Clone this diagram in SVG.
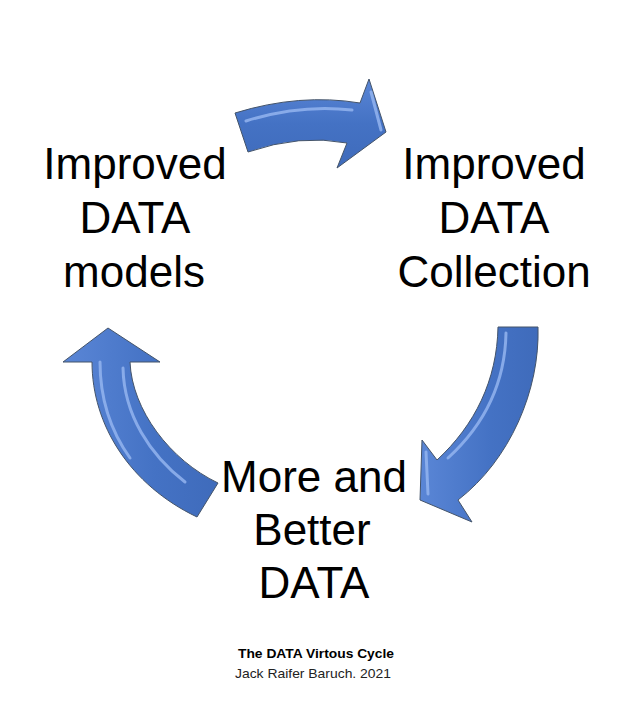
<svg xmlns="http://www.w3.org/2000/svg" width="638" height="720" viewBox="0 0 638 720">
<style>
  .lbl { font-family: "Liberation Sans", Arial, sans-serif; font-size: 44px; fill: #000; text-anchor: middle; }
  .t1 { font-family: "Liberation Sans", Arial, sans-serif; font-size: 13px; font-weight: bold; fill: #000; text-anchor: middle; }
  .t2 { font-family: "Liberation Sans", Arial, sans-serif; font-size: 13.5px; fill: #222; text-anchor: middle; }
  .arrow { stroke: #44546a; stroke-width: 1; stroke-linejoin: miter; }
  .hl { fill: none; stroke: #93b4ee; stroke-width: 3; stroke-linecap: round; opacity: 0.85; }
</style>
<defs>
  <linearGradient id="gTop" x1="0" y1="0" x2="0" y2="1">
    <stop offset="0" stop-color="#5a86d6"/>
    <stop offset="0.5" stop-color="#4472c4"/>
    <stop offset="1" stop-color="#3f6bbb"/>
  </linearGradient>
  <linearGradient id="gR" x1="0" y1="0" x2="1" y2="0">
    <stop offset="0" stop-color="#5a86d6"/>
    <stop offset="0.6" stop-color="#4472c4"/>
    <stop offset="1" stop-color="#3f6bbb"/>
  </linearGradient>
</defs>
<rect width="638" height="720" fill="#fff"/>
<g id="connectors">
  <g id="arrow-top">
    <path class="arrow" fill="url(#gTop)" d="M235,113 Q300,93 360,103 L369,79 L386,132 L337,168 L347,143 Q300,134 248,152 Z"/>
    <path class="hl" d="M246,121 Q300,104 352,110"/>
    <path class="hl" d="M371,92 L381,130" stroke-width="2"/>
  </g>
  <g id="arrow-right">
    <path class="arrow" fill="url(#gR)" d="M498,327 L538,327 C540,390 510,460 458,500 L472,522 L420,500 L422,440 L437,460 C475,425 497,380 498,327 Z"/>
    <path class="hl" d="M506,333 C505,385 484,425 448,458"/>
    <path class="hl" d="M426,452 L428,494" stroke-width="2"/>
  </g>
  <g id="arrow-left">
    <path class="arrow" fill="url(#gR)" d="M197,517 C130,485 92,425 92,362 L63,362 L108,328 L160,362 L130,362 C132,410 170,460 218,483 Z"/>
    <path class="hl" d="M123,368 C124,415 150,455 185,482"/>
    <path class="hl" d="M100,362 C100,400 110,430 130,458" stroke-width="2" opacity="0.5"/>
  </g>
</g>
<g id="node-models">
  <text class="lbl" x="135" y="179">Improved</text>
  <text class="lbl" x="135" y="233">DATA</text>
  <text class="lbl" x="134" y="287">models</text>
</g>
<g id="node-collection">
  <text class="lbl" x="494" y="179">Improved</text>
  <text class="lbl" x="494" y="233">DATA</text>
  <text class="lbl" x="494" y="287">Collection</text>
</g>
<g id="node-data">
  <text class="lbl" x="314" y="492">More and</text>
  <text class="lbl" x="312" y="545">Better</text>
  <text class="lbl" x="314" y="598">DATA</text>
</g>
<g id="caption">
  <text class="t1" x="316" y="658" textLength="156" lengthAdjust="spacingAndGlyphs">The DATA Virtous Cycle</text>
  <text class="t2" x="313" y="678" textLength="156" lengthAdjust="spacingAndGlyphs">Jack Raifer Baruch. 2021</text>
</g>
</svg>
